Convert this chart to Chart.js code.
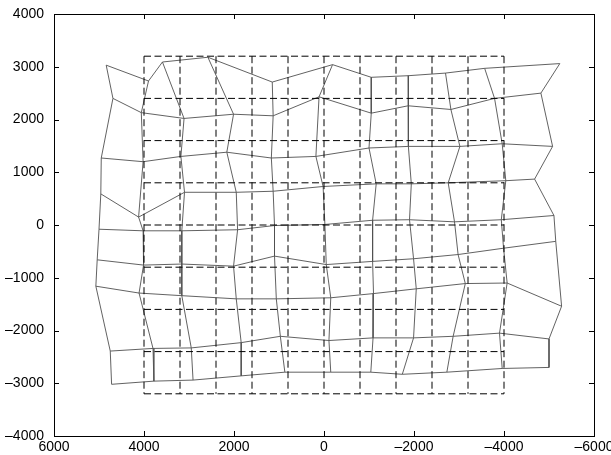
<!DOCTYPE html>
<html>
<head>
<meta charset="utf-8">
<script src="https://cdn.jsdelivr.net/npm/chart.js@4/dist/chart.umd.min.js"></script>
<style>
  html, body { margin: 0; padding: 0; background: #fff; }
  #wrap { width: 611px; height: 455px; position: relative; }
</style>
</head>
<body>
<div id="wrap"><canvas id="c" width="611" height="455"></canvas></div>
<script>
// Tick labels
const xTicks = [6000, 4000, 2000, 0, -2000, -4000, -6000];
const yTicks = [-4000, -3000, -2000, -1000, 0, 1000, 2000, 3000, 4000];

// Regular reference grid (dashed)
const refX = [4000, 3200, 2400, 1600, 800, 0, -800, -1600, -2400, -3200, -4000];
const refY = [3200, 2400, 1600, 800, 0, -800, -1600, -2400, -3200];

// Distorted mesh nodes: one array per row (top to bottom), 11 nodes each
const meshX = [
  [4840, 3900, 3590, 2580, 1150, -190, -1050, -1870, -2700, -3570, -5240],
  [4690, 4060, 3110, 2010, 1130, 110, -1050, -1870, -2820, -3790, -4820],
  [4950, 4020, 3180, 2160, 1170, 180, -1000, -1880, -3020, -3960, -5080],
  [4960, 4120, 3100, 1950, 1130, 20, -1160, -1940, -2760, -4040, -4680],
  [5000, 4020, 3160, 1920, 1100, -20, -1080, -1900, -2900, -3940, -5110],
  [5040, 4010, 3160, 2010, 1100, -50, -1080, -1990, -2980, -3990, -5150],
  [5070, 4110, 3160, 1950, 1060, -150, -1100, -2050, -3140, -4070, -5280],
  [4750, 3800, 2950, 1840, 970, -110, -1090, -1990, -2870, -3900, -5000],
  [4720, 3780, 2910, 1840, 870, -150, -1040, -1740, -2730, -3960, -5000]
];
const meshY = [
  [3030, 2730, 3090, 3180, 2710, 3040, 2800, 2830, 2880, 2970, 3060],
  [2400, 2130, 2020, 2100, 2070, 2430, 2120, 2260, 2190, 2400, 2500],
  [1270, 1200, 1300, 1380, 1270, 1300, 1460, 1490, 1490, 1540, 1490],
  [590, 150, 620, 620, 640, 730, 780, 780, 800, 840, 870],
  [-80, -110, -110, -90, -10, 10, 90, 100, 60, 100, 180],
  [-660, -760, -740, -780, -590, -750, -690, -640, -560, -440, -310],
  [-1160, -1290, -1340, -1400, -1400, -1380, -1300, -1210, -1110, -1100, -1540],
  [-2390, -2340, -2330, -2230, -2110, -2190, -2140, -2140, -2110, -2050, -2160],
  [-3020, -2960, -2940, -2860, -2790, -2790, -2790, -2830, -2790, -2720, -2700]
];

const datasets = [];
const dashStyle = { borderColor: '#000', borderWidth: 1, borderDash: [7, 3.5], pointRadius: 0, showLine: true, fill: false, tension: 0 };
const meshStyle = { borderColor: '#505050', borderWidth: 0.9, pointRadius: 0, showLine: true, fill: false, tension: 0 };

// dashed reference grid
const rxMin = refX[0], rxMax = refX[refX.length - 1];
const ryMax = refY[0], ryMin = refY[refY.length - 1];
refY.forEach(y => datasets.push(Object.assign({ data: [{ x: rxMin, y: y }, { x: rxMax, y: y }] }, dashStyle)));
refX.forEach(x => datasets.push(Object.assign({ data: [{ x: x, y: ryMax }, { x: x, y: ryMin }] }, dashStyle)));

// mesh rows
meshX.forEach((row, i) => {
  datasets.push(Object.assign({ data: row.map((x, j) => ({ x: x, y: meshY[i][j] })) }, meshStyle));
});
// mesh columns
for (let j = 0; j < meshX[0].length; j++) {
  datasets.push(Object.assign({ data: meshX.map((row, i) => ({ x: row[j], y: meshY[i][j] })) }, meshStyle));
}

const fmt = v => String(v).replace('-', '\u2013');

const frameTicks = {
  id: 'frameTicks',
  afterDraw(chart) {
    const { ctx, chartArea: a, scales } = chart;
    ctx.save();
    ctx.strokeStyle = '#000';
    ctx.lineWidth = 1;
    ctx.strokeRect(Math.round(a.left) + 0.5, Math.round(a.top) + 0.5, Math.round(a.right - a.left), Math.round(a.bottom - a.top));
    const L = 5;
    ctx.beginPath();
    xTicks.forEach(v => {
      const px = Math.round(scales.x.getPixelForValue(v)) + 0.5;
      ctx.moveTo(px, a.bottom); ctx.lineTo(px, a.bottom - L);
      ctx.moveTo(px, a.top); ctx.lineTo(px, a.top + L);
    });
    yTicks.forEach(v => {
      const py = Math.round(scales.y.getPixelForValue(v)) + 0.5;
      ctx.moveTo(a.left, py); ctx.lineTo(a.left + L, py);
      ctx.moveTo(a.right, py); ctx.lineTo(a.right - L, py);
    });
    ctx.stroke();
    ctx.restore();
  }
};

new Chart(document.getElementById('c'), {
  type: 'scatter',
  data: { datasets: datasets },
  options: {
    responsive: false,
    animation: false,
    events: [],
    layout: { padding: { top: 14, right: 17, left: 0, bottom: 0 } },
    plugins: { legend: { display: false }, tooltip: { enabled: false } },
    scales: {
      x: {
        type: 'linear', reverse: true, min: -6000, max: 6000,
        grid: { display: false, drawTicks: false },
        border: { display: false },
        afterBuildTicks: s => { s.ticks = xTicks.map(v => ({ value: v })); },
        afterFit: s => { s.height = 19; s.paddingLeft = 0; s.paddingRight = 0; },
        ticks: { autoSkip: false, maxRotation: 0, padding: 3, color: '#000', font: { family: 'Liberation Sans, Arial, sans-serif', size: 14 }, callback: v => fmt(v) }
      },
      y: {
        type: 'linear', min: -4000, max: 4000,
        grid: { display: false, drawTicks: false },
        border: { display: false },
        afterBuildTicks: s => { s.ticks = yTicks.map(v => ({ value: v })); },
        afterFit: s => { s.width = 54; s.paddingTop = 0; s.paddingBottom = 0; },
        ticks: { autoSkip: false, padding: 10, color: '#000', font: { family: 'Liberation Sans, Arial, sans-serif', size: 14 }, callback: v => fmt(v) }
      }
    }
  },
  plugins: [frameTicks]
});
</script>
</body>
</html>
